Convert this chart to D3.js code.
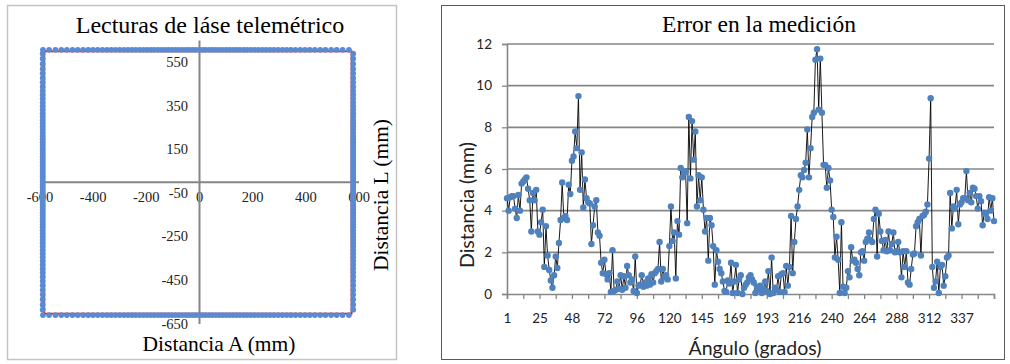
<!DOCTYPE html>
<html>
<head>
<meta charset="utf-8">
<script src="https://cdn.jsdelivr.net/npm/d3@7"></script>
<style>
  body { margin: 0; background: #fff; }
</style>
</head>
<body>
<svg id="chart" width="1010" height="364"></svg>
<script>
// ---- datos: lecturas del láser (gráfico izquierdo) ----
const xTicksIzq = [-600, -400, -200, 0, 200, 400, 600];
const yTicksIzq = [-650, -450, -250, -50, 150, 350, 550];
// posición de las lecturas a lo largo de cada lado (mm desde el centro)
const offsetsLado = [0, 13, 25, 38, 50, 63, 76, 89, 102, 115, 128, 141, 154, 168, 181, 195, 209,
  223, 238, 252, 267, 282, 298, 314, 330, 346, 363, 381, 399, 417, 436, 456, 476, 497, 518, 540, 564, 587];
const ladoSup = 605, ladoInf = -612, ladoIzq = -588, ladoDer = 580;
// cuadrado de referencia (línea roja)
const esquinasRef = [[-582, 598], [574, 598], [574, -605], [-582, -605], [-582, 598]];

// ---- datos: error en la medición (gráfico derecho) ----
const etiquetasAngulo = ["1", "25", "48", "72", "96", "120", "145", "169", "193", "216", "240", "264", "288", "312", "337"];
const yTicksDer = [0, 2, 4, 6, 8, 10, 12];
const errorMm = [
  4.6, 4.0, 4.65, 4.7, 4.7, 4.1, 3.65, 4.75, 4.0, 5.3, 5.4, 5.5, 5.6, 5.05, 4.5, 3.0, 4.85, 4.5, 5.0, 3.0, 2.85,
  3.45, 4.05, 1.3, 3.25, 1.85, 1.15, 0.65, 0.3, 0.9, 1.8, 1.25, 2.45, 3.55, 5.35, 3.65, 3.75, 3.55, 5.25, 4.8, 6.4,
  6.6, 7.8, 7.0, 9.5, 5.0, 6.8, 4.15, 5.5, 4.6, 4.4, 4.35, 2.4, 3.3, 4.2, 4.5, 2.95, 2.8, 1.5, 1.0, 1.65,
  0.95, 0.7, 1.0, 0.1, 2.1, 0.15, 0.2, 0.6, 0.25, 0.9, 0.2, 0.85, 0.3, 1.35, 0.9, 0.55, 0.7, 0.15, 1.8, 0.05,
  0.4, 0.45, 0.9, 0.35, 0.55, 0.4, 0.75, 0.45, 0.95, 0.55, 1.0, 1.1, 1.2, 2.5, 0.6, 1.2, 0.8, 0.9, 0.7, 2.3,
  4.2, 2.55, 2.95, 0.75, 3.5, 2.85, 6.05, 5.6, 5.8, 5.9, 3.4, 8.5, 5.55, 8.3, 6.45, 7.8, 4.2, 5.7, 4.5, 5.6,
  4.05, 3.0, 3.65, 1.6, 3.65, 3.3, 2.3, 0.45, 2.1, 1.55, 1.2, 1.0, 0.6, 0.15, 0.1, 0.65, 0.5, 1.5, 0.05, 0.6,
  1.4, 0.05, 0.7, 0.9, 0.0, 0.3, 0.45, 0.55, 0.8, 0.9, 0.7, 0.55, 0.05, 0.35, 0.2, 0.4, 0.05, 0.25, 0.6, 0.15, 1.1, 0.0,
  1.75, 0.05, 0.3, 0.2, 0.85, 0.1, 0.95, 1.0, 0.1, 1.35, 0.4, 1.3, 3.75, 1.0, 2.5, 3.6, 4.2, 5.0,
  5.7, 5.6, 5.95, 6.3, 7.9, 5.6, 7.0, 8.5, 8.7, 11.25, 11.75, 8.85, 11.3, 8.7, 6.2, 6.2, 5.1, 6.05, 5.45, 4.05,
  3.7, 1.75, 2.75, 1.65, 0.05, 3.45, 0.35, 0.05, 0.3, 1.1, 0.8, 2.25, 1.6, 1.65, 1.5, 1.2, 0.9, 2.0, 2.05, 1.6,
  2.5, 2.65, 2.95, 2.6, 2.5, 3.6, 4.05, 1.8, 3.85, 3.0, 2.55, 2.1, 2.6, 2.05, 3.0, 2.1, 2.4, 2.95, 2.0, 2.05,
  2.5, 2.0, 0.8, 2.05, 1.3, 2.05, 0.55, 0.45, 1.2, 1.9, 1.95, 3.25, 3.45, 3.6, 1.85, 3.75, 3.8, 3.95, 4.3, 6.5,
  9.4, 1.3, 0.3, 0.6, 1.55, 0.05, 1.3, 1.4, 0.4, 0.85, 1.75, 1.85, 4.85, 3.15, 4.2, 4.1, 5.0, 3.35, 4.3, 4.4,
  4.6, 4.6, 5.9, 4.5, 4.85, 4.4, 5.1, 5.05, 4.7, 4.1, 4.7, 4.45, 3.3, 3.9, 3.85, 3.6, 4.65, 4.0, 4.6, 3.5
];

const svg = d3.select("#chart");
svg.append("rect").attr("width", 1010).attr("height", 364).attr("fill", "#fff");

const serif = "'Liberation Serif', 'Times New Roman', serif";
const sans = "Lato, 'Open Sans', sans-serif";
const gris = "#868686";

// ================= gráfico izquierdo =================
const gL = svg.append("g");
gL.append("rect")
  .attr("x", 7.5).attr("y", 5.5).attr("width", 389).attr("height", 354)
  .attr("fill", "none").attr("stroke", "#c4c4c4").attr("stroke-width", 1.5);

const xL = d3.scaleLinear().domain([-600, 600]).range([39.5, 358.5]);
const yL = d3.scaleLinear().domain([-650, 650]).range([323.4, 40]);

const axX = gL.append("g")
  .attr("transform", `translate(0,${yL(0)})`)
  .call(d3.axisBottom(xL).tickValues(xTicksIzq).tickSize(0).tickPadding(10).tickFormat(d3.format("d")));
const axY = gL.append("g")
  .attr("transform", `translate(${xL(0)},0)`)
  .call(d3.axisLeft(yL).tickValues(yTicksIzq).tickSize(0).tickPadding(11).tickFormat(d3.format("d")));
[axX, axY].forEach(a => {
  a.select(".domain").attr("stroke", gris).attr("stroke-width", 2);
  a.selectAll("text").attr("font-family", serif).attr("font-size", 14.5).attr("fill", "#222");
});
axX.selectAll("text").text(d => d < 0 ? "-" + Math.abs(d) : d);
axY.selectAll("text").text(d => d < 0 ? "-" + Math.abs(d) : d);

// cuadrado de referencia (rojo)
gL.append("path")
  .datum(esquinasRef)
  .attr("d", d3.line().x(d => xL(d[0])).y(d => yL(d[1])))
  .attr("fill", "none").attr("stroke", "#ff0000").attr("stroke-width", 1.8);

// lecturas (azul)
const mirror = offsetsLado.slice(1).map(v => -v).reverse().concat(offsetsLado);
const puntos = [];
mirror.filter(v => v >= ladoIzq && v <= ladoDer).forEach(v => { puntos.push([v, ladoSup]); puntos.push([v, ladoInf]); });
mirror.filter(v => v >= ladoInf && v <= ladoSup).forEach(v => { puntos.push([ladoIzq, v]); puntos.push([ladoDer, v]); });
gL.append("g").selectAll("circle")
  .data(puntos)
  .join("circle")
  .attr("cx", d => xL(d[0])).attr("cy", d => yL(d[1]))
  .attr("r", 2.9).attr("fill", "#5a8bd2");

gL.append("text").attr("x", 210).attr("y", 33).attr("text-anchor", "middle")
  .attr("font-family", serif).attr("font-size", 24).text("Lecturas de láse telemétrico");
gL.append("text").attr("x", 219).attr("y", 351).attr("text-anchor", "middle")
  .attr("font-family", serif).attr("font-size", 21.5).text("Distancia A (mm)");
gL.append("text").attr("transform", "translate(388,195) rotate(-90)").attr("text-anchor", "middle")
  .attr("font-family", serif).attr("font-size", 21.5).text("Distancia L (mm)");

// ================= gráfico derecho =================
const gR = svg.append("g");
gR.append("rect")
  .attr("x", 441.5).attr("y", 5.5).attr("width", 563).attr("height", 354)
  .attr("fill", "none").attr("stroke", "#5a5a5a").attr("stroke-width", 1);

const xR = d3.scaleLinear().domain([0, errorMm.length - 1]).range([507, 994]);
const yR = d3.scaleLinear().domain([0, 12]).range([294, 44]);

// rejilla
gR.append("g").selectAll("line")
  .data(yTicksDer.filter(d => d > 0))
  .join("line")
  .attr("x1", 507).attr("x2", 994)
  .attr("y1", d => yR(d)).attr("y2", d => yR(d))
  .attr("stroke", gris).attr("stroke-width", 1.6);

const axYR = gR.append("g")
  .attr("transform", "translate(507,0)")
  .call(d3.axisLeft(yR).tickValues(yTicksDer).tickSize(5).tickPadding(10));
const axXR = gR.append("g")
  .attr("transform", `translate(0,${yR(0)})`)
  .call(d3.axisBottom(xR).tickValues(d3.range(0, errorMm.length, 10)).tickSize(5).tickPadding(14)
    .tickFormat(d => (d % 20 === 0 && etiquetasAngulo[d / 20]) ? etiquetasAngulo[d / 20] : ""));
[axYR, axXR].forEach(a => {
  a.select(".domain").attr("stroke", gris).attr("stroke-width", 1.6);
  a.selectAll(".tick line").attr("stroke", gris).attr("stroke-width", 1.3);
  a.selectAll("text").attr("font-family", sans).attr("font-size", 13.5).attr("fill", "#222");
});

const linea = d3.line().x((d, i) => xR(i)).y(d => yR(d));
gR.append("path")
  .datum(errorMm)
  .attr("d", linea)
  .attr("fill", "none").attr("stroke", "#000").attr("stroke-width", 0.9);
gR.append("g").selectAll("circle")
  .data(errorMm)
  .join("circle")
  .attr("cx", (d, i) => xR(i)).attr("cy", d => yR(d))
  .attr("r", 3.2).attr("fill", "#4f81bd");

gR.append("text").attr("x", 759).attr("y", 32).attr("text-anchor", "middle")
  .attr("font-family", serif).attr("font-size", 23.5).text("Error en la medición");
gR.append("text").attr("x", 755).attr("y", 355).attr("text-anchor", "middle")
  .attr("font-family", sans).attr("font-size", 19.5).attr("fill", "#222").text("Ángulo (grados)");
gR.append("text").attr("transform", "translate(474,205) rotate(-90)").attr("text-anchor", "middle")
  .attr("font-family", sans).attr("font-size", 19.5).attr("fill", "#222").text("Distancia (mm)");
</script>
</body>
</html>
